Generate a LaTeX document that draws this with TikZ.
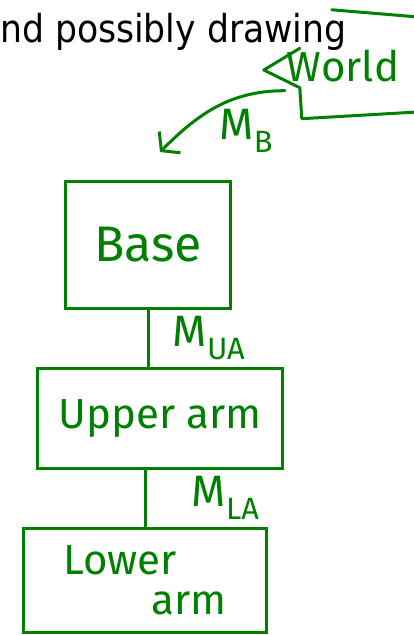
\documentclass[tikz,border=0pt]{standalone}
\usepackage{fontspec}
\setmainfont{DejaVu Sans Condensed}
\newfontfamily\inkfont{Fira Sans}
\usepackage{tikz}
\usetikzlibrary{positioning,arrows.meta}
\definecolor{ink}{RGB}{0,128,0}

\begin{document}
\begin{tikzpicture}[x=1pt,y=-1pt,
                    every node/.style={text=ink,font=\inkfont\fontsize{42}{44}\selectfont},
                    box/.style={draw=ink,line width=3pt,inner sep=0pt},
                    wire/.style={draw=ink,line width=3pt,line cap=round,line join=round},
                    tag/.style={font=\inkfont\fontsize{44}{44}\selectfont}]
\useasboundingbox (0,0) rectangle (414,635);
\clip (0,0) rectangle (414,635);
\node[anchor=base west,inner sep=0pt,text=black,
      font=\fontsize{38.5}{40}\selectfont] (caption) at (0,42) {nd possibly drawing};
% world frame is open at the top left, so draw it by hand
\node[minimum width=158pt,minimum height=105pt,inner sep=0pt,
      font=\inkfont\fontsize{42}{42}\selectfont] (world) at (343,66) {World};
\draw[wire] ([xshift=68pt,yshift=3.5pt]world.north west) -- ([yshift=-4pt]world.north east);
\draw[wire] ([yshift=7pt]world.south east) -- ([xshift=38pt]world.south west)
            -- ([xshift=36pt,yshift=31pt]world.south west)
            -- ([yshift=-4pt]world.west)
            -- ([xshift=36pt,yshift=-35pt]world.north west);
\node[box,minimum width=165pt,minimum height=127pt,
      font=\inkfont\fontsize{50}{50}\selectfont] (base)  at (148,245) {Base};
\node[box,minimum width=245pt,minimum height=100pt] (upper) at (160,418) {Upper arm};
\node[box,minimum width=243pt,minimum height=104pt,align=left] (lower) at (145,580)
     {Lower\\[-4pt]\hspace*{2.1em}arm};
\draw[wire,-{Straight Barb[length=12pt,width=30pt]}]
     ([shift={(21,-28)}]world.south west) to[out=180,in=45]
     node[tag,pos=0.35,anchor=north west,xshift=-20pt,yshift=-6pt] {M\textsubscript{B}}
     ([shift={(12,-28)}]base.north);
\draw[wire] (base.south) -- (base.south |- upper.north)
     node[tag,midway,right=20pt] {M\textsubscript{UA}};
\draw[wire] (lower.north) -- (lower.north |- upper.south)
     node[tag,midway,right=42pt] {M\textsubscript{LA}};
\end{tikzpicture}
\end{document}
